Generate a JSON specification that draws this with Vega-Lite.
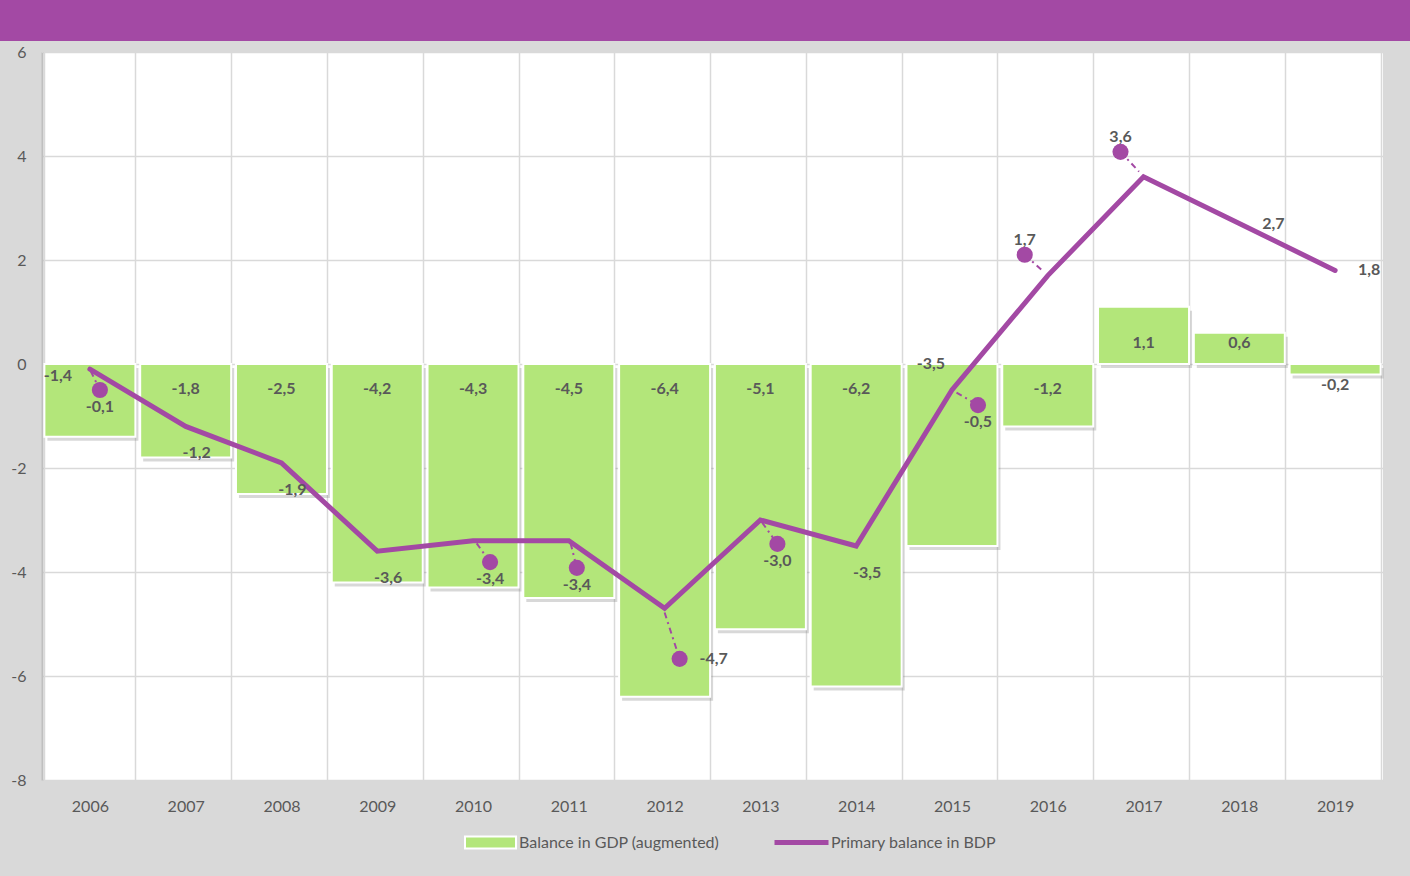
{
  "$schema": "https://vega.github.io/schema/vega-lite/v6.json",
  "background": "#d9d9d9",
  "padding": {"left": 0, "top": 0, "right": 0, "bottom": 26},
  "config": {
    "locale": {"number": {"decimal": ",", "thousands": ".", "grouping": [3], "currency": ["", ""], "minus": "-"}},
    "font": "Lato",
    "view": {"stroke": null}
  },
  "datasets": {
    "main": [
      {"year": "2006", "balance": -1.4, "primary": -0.1},
      {"year": "2007", "balance": -1.8, "primary": -1.2},
      {"year": "2008", "balance": -2.5, "primary": -1.9},
      {"year": "2009", "balance": -4.2, "primary": -3.6},
      {"year": "2010", "balance": -4.3, "primary": -3.4},
      {"year": "2011", "balance": -4.5, "primary": -3.4},
      {"year": "2012", "balance": -6.4, "primary": -4.7},
      {"year": "2013", "balance": -5.1, "primary": -3.0},
      {"year": "2014", "balance": -6.2, "primary": -3.5},
      {"year": "2015", "balance": -3.5, "primary": -0.5},
      {"year": "2016", "balance": -1.2, "primary": 1.7},
      {"year": "2017", "balance": 1.1, "primary": 3.6},
      {"year": "2018", "balance": 0.6, "primary": 2.7},
      {"year": "2019", "balance": -0.2, "primary": 1.8}
    ],
    "dots": [
      {"year": "2006", "shift": 0.61, "dot": -0.5, "primary": -0.1},
      {"year": "2010", "shift": 0.687, "dot": -3.81, "primary": -3.4},
      {"year": "2011", "shift": 0.588, "dot": -3.92, "primary": -3.4},
      {"year": "2012", "shift": 0.665, "dot": -5.67, "primary": -4.7},
      {"year": "2013", "shift": 0.687, "dot": -3.46, "primary": -3.0},
      {"year": "2015", "shift": 0.786, "dot": -0.79, "primary": -0.5},
      {"year": "2016", "shift": 0.247, "dot": 2.1, "primary": 1.7},
      {"year": "2017", "shift": 0.247, "dot": 4.08, "primary": 3.6}
    ],
    "leaders": [
      {"year": "2006", "shift": 0.61, "v": -0.5}, {"year": "2006", "shift": 0.51, "v": -0.14},
      {"year": "2010", "shift": 0.687, "v": -3.81}, {"year": "2010", "shift": 0.54, "v": -3.45},
      {"year": "2011", "shift": 0.588, "v": -3.92}, {"year": "2011", "shift": 0.52, "v": -3.45},
      {"year": "2012", "shift": 0.665, "v": -5.67}, {"year": "2012", "shift": 0.5, "v": -4.78},
      {"year": "2013", "shift": 0.687, "v": -3.46}, {"year": "2013", "shift": 0.52, "v": -3.05},
      {"year": "2015", "shift": 0.786, "v": -0.79}, {"year": "2015", "shift": 0.55, "v": -0.55},
      {"year": "2016", "shift": 0.247, "v": 2.1}, {"year": "2016", "shift": 0.44, "v": 1.8},
      {"year": "2017", "shift": 0.247, "v": 4.08}, {"year": "2017", "shift": 0.45, "v": 3.7}
    ]
  },
  "width": 1341,
  "height": 728,
  "view": {"fill": "white", "stroke": null},
  "resolve": {"scale": {"xOffset": "independent"}},
  "layer": [
    {
      "data": {"values": [{"band": "header"}]},
      "mark": {"type": "rect", "color": "#a349a4", "xOffset": -42, "x2Offset": 27, "clip": false},
      "encoding": {
        "x": {"value": 0},
        "x2": {"value": "width"},
        "y": {"datum": 7.0},
        "y2": {"datum": 6.212}
      }
    },
    {
      "data": {"name": "main"},
      "mark": {"type": "bar", "color": "#7f7f7f", "opacity": 0.3, "xOffset": 3, "yOffset": 4, "y2Offset": 4},
      "encoding": {
        "x": {
          "field": "year",
          "type": "ordinal",
          "scale": {"paddingInner": 0.05, "paddingOuter": 0.025},
          "axis": {
            "title": null,
            "tickBand": "extent",
            "ticks": false,
            "domain": false,
            "labelAngle": 0,
            "labelFontSize": 16,
            "labelColor": "#595959",
            "labelPadding": 18,
            "grid": true,
            "gridColor": "#d9d9d9",
            "gridWidth": 1.5
          }
        },
        "y": {
          "field": "balance",
          "type": "quantitative",
          "scale": {"domain": [-8, 6], "nice": false, "zero": false},
          "axis": {
            "title": null,
            "values": [-8, -6, -4, -2, 0, 2, 4, 6],
            "ticks": false,
            "domain": true,
            "domainColor": "#bfbfbf",
            "domainWidth": 2,
            "labelFontSize": 16,
            "labelColor": "#595959",
            "labelPadding": 16,
            "grid": true,
            "gridColor": "#d9d9d9",
            "gridWidth": 1.5
          }
        },
        "y2": {"datum": 0}
      }
    },
    {
      "data": {"name": "main"},
      "mark": {"type": "bar", "stroke": "white", "strokeWidth": 2},
      "encoding": {
        "x": {"field": "year", "type": "ordinal"},
        "y": {"field": "balance", "type": "quantitative"},
        "y2": {"datum": 0},
        "fill": {
          "datum": "Balance in GDP (augmented)",
          "scale": {"range": ["#b3e67a"]},
          "legend": {
            "orient": "none",
            "legendX": 422,
            "legendY": 764,
            "title": null,
            "padding": 0,
            "symbolType": "M-1,-0.24H1V0.24H-1Z",
            "symbolSize": 2600,
            "symbolStrokeColor": "white",
            "symbolStrokeWidth": 2,
            "symbolOpacity": 1,
            "labelFontSize": 16,
            "labelColor": "#595959",
            "labelOffset": 2,
            "labelLimit": 400
          }
        }
      }
    },
    {
      "data": {"name": "main"},
      "transform": [{"filter": "datum.balance < 0 && datum.year != '2006' && datum.year != '2015' && datum.year != '2019'"}],
      "mark": {"type": "text", "dy": 25, "baseline": "middle", "fontWeight": "bold", "fontSize": 16, "color": "#595959"},
      "encoding": {"x": {"field": "year", "type": "ordinal"}, "y": {"datum": 0}, "text": {"field": "balance", "type": "quantitative", "format": ".1f"}}
    },
    {
      "data": {"name": "main"},
      "transform": [{"filter": "datum.year == '2019'"}],
      "mark": {"type": "text", "dy": 21, "baseline": "middle", "fontWeight": "bold", "fontSize": 16, "color": "#595959"},
      "encoding": {"x": {"field": "year", "type": "ordinal"}, "y": {"datum": 0}, "text": {"field": "balance", "type": "quantitative", "format": ".1f"}}
    },
    {
      "data": {"name": "main"},
      "transform": [{"filter": "datum.balance > 0"}],
      "mark": {"type": "text", "dy": -21, "baseline": "middle", "fontWeight": "bold", "fontSize": 16, "color": "#595959"},
      "encoding": {"x": {"field": "year", "type": "ordinal"}, "y": {"datum": 0}, "text": {"field": "balance", "type": "quantitative", "format": ".1f"}}
    },
    {
      "data": {"name": "main"},
      "transform": [{"filter": "datum.year == '2006'"}],
      "mark": {"type": "text", "dx": -32, "dy": 12, "baseline": "middle", "fontWeight": "bold", "fontSize": 16, "color": "#595959"},
      "encoding": {"x": {"field": "year", "type": "ordinal"}, "y": {"datum": 0}, "text": {"field": "balance", "type": "quantitative", "format": ".1f"}}
    },
    {
      "data": {"name": "main"},
      "transform": [{"filter": "datum.year == '2015'"}],
      "mark": {"type": "text", "dx": -21, "dy": 0, "baseline": "middle", "fontWeight": "bold", "fontSize": 16, "color": "#595959"},
      "encoding": {"x": {"field": "year", "type": "ordinal"}, "y": {"datum": 0}, "text": {"field": "balance", "type": "quantitative", "format": ".1f"}}
    },
    {
      "data": {"name": "main"},
      "mark": {"type": "line", "strokeWidth": 5, "strokeCap": "round", "strokeJoin": "miter"},
      "encoding": {
        "x": {"field": "year", "type": "ordinal"},
        "y": {"field": "primary", "type": "quantitative"},
        "stroke": {
          "datum": "Primary balance in BDP",
          "scale": {"range": ["#a349a4"]},
          "legend": {
            "orient": "none",
            "legendX": 730,
            "legendY": 761,
            "title": null,
            "padding": 0,
            "symbolType": "stroke",
            "symbolSize": 2916,
            "symbolStrokeWidth": 5,
            "labelFontSize": 16,
            "labelColor": "#595959",
            "labelOffset": 0,
            "labelLimit": 400
          }
        }
      }
    },
    {
      "data": {"name": "leaders"},
      "mark": {"type": "line", "color": "#a349a4", "strokeWidth": 2, "strokeDash": [6, 4, 2, 4]},
      "encoding": {
        "x": {"field": "year", "type": "ordinal"},
        "xOffset": {"field": "shift", "type": "quantitative", "scale": {"domain": [0, 1]}},
        "y": {"field": "v", "type": "quantitative"},
        "detail": {"field": "year"}
      }
    },
    {
      "data": {"name": "dots"},
      "mark": {"type": "circle", "size": 260, "fill": "#a349a4", "opacity": 1},
      "encoding": {
        "x": {"field": "year", "type": "ordinal"},
        "xOffset": {"field": "shift", "type": "quantitative", "scale": {"domain": [0, 1]}},
        "y": {"field": "dot", "type": "quantitative"}
      }
    },
    {
      "data": {"name": "dots"},
      "transform": [{"filter": "datum.year != '2012' && datum.year != '2016' && datum.year != '2017'"}],
      "mark": {"type": "text", "dy": 17, "baseline": "middle", "fontWeight": "bold", "fontSize": 16, "color": "#595959"},
      "encoding": {
        "x": {"field": "year", "type": "ordinal"},
        "xOffset": {"field": "shift", "type": "quantitative", "scale": {"domain": [0, 1]}},
        "y": {"field": "dot", "type": "quantitative"},
        "text": {"field": "primary", "type": "quantitative", "format": ".1f"}
      }
    },
    {
      "data": {"name": "dots"},
      "transform": [{"filter": "datum.year == '2016' || datum.year == '2017'"}],
      "mark": {"type": "text", "dy": -15, "baseline": "middle", "fontWeight": "bold", "fontSize": 16, "color": "#595959"},
      "encoding": {
        "x": {"field": "year", "type": "ordinal"},
        "xOffset": {"field": "shift", "type": "quantitative", "scale": {"domain": [0, 1]}},
        "y": {"field": "dot", "type": "quantitative"},
        "text": {"field": "primary", "type": "quantitative", "format": ".1f"}
      }
    },
    {
      "data": {"name": "dots"},
      "transform": [{"filter": "datum.year == '2012'"}],
      "mark": {"type": "text", "dx": 34, "baseline": "middle", "fontWeight": "bold", "fontSize": 16, "color": "#595959"},
      "encoding": {
        "x": {"field": "year", "type": "ordinal"},
        "xOffset": {"field": "shift", "type": "quantitative", "scale": {"domain": [0, 1]}},
        "y": {"field": "dot", "type": "quantitative"},
        "text": {"field": "primary", "type": "quantitative", "format": ".1f"}
      }
    },
    {
      "data": {"name": "main"},
      "transform": [{"filter": "indexof(['2007','2008','2009','2014'], datum.year) >= 0"}],
      "mark": {"type": "text", "dx": 11, "dy": 27, "baseline": "middle", "fontWeight": "bold", "fontSize": 16, "color": "#595959"},
      "encoding": {
        "x": {"field": "year", "type": "ordinal"},
        "y": {"field": "primary", "type": "quantitative"},
        "text": {"field": "primary", "type": "quantitative", "format": ".1f"}
      }
    },
    {
      "data": {"name": "main"},
      "transform": [{"filter": "datum.year == '2018' || datum.year == '2019'"}],
      "mark": {"type": "text", "dx": 34, "dy": 0, "baseline": "middle", "fontWeight": "bold", "fontSize": 16, "color": "#595959"},
      "encoding": {
        "x": {"field": "year", "type": "ordinal"},
        "y": {"field": "primary", "type": "quantitative"},
        "text": {"field": "primary", "type": "quantitative", "format": ".1f"}
      }
    }
  ]
}
